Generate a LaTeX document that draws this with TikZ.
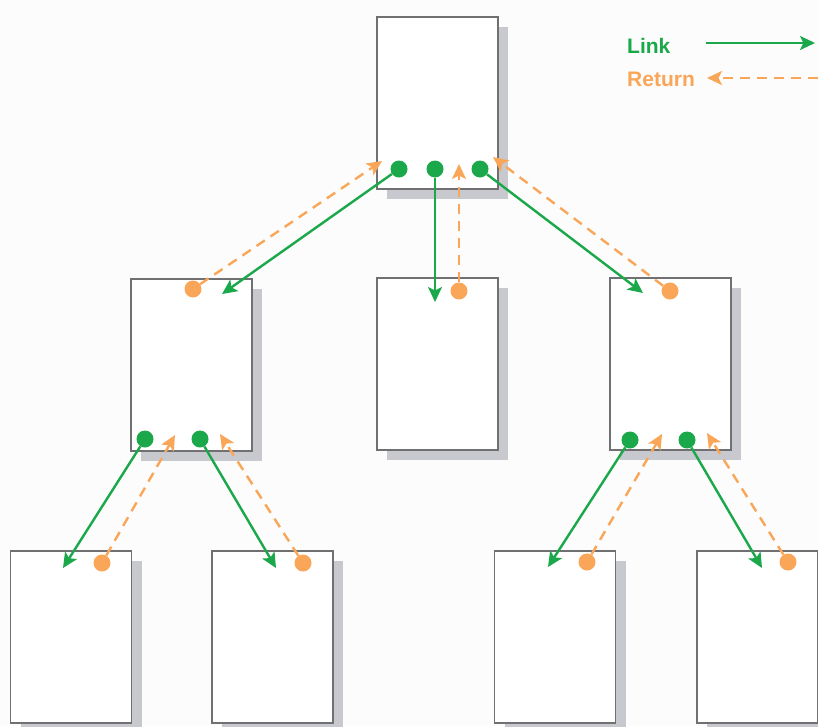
\documentclass[tikz,border=0pt]{standalone}
\usepackage{fontspec}
\setmainfont{Liberation Sans}
\usetikzlibrary{arrows.meta,shadows}
\definecolor{lgreen}{RGB}{26,168,74}
\definecolor{lorange}{RGB}{250,166,88}
\definecolor{boxgray}{RGB}{112,112,114}
\definecolor{shadowgray}{RGB}{200,201,206}
\definecolor{bgc}{RGB}{251,252,251}
\begin{document}
\begin{tikzpicture}[x=1pt,y=-1pt,
 page/.style={draw=boxgray, line width=1.5pt, fill=white, minimum width=121pt, minimum height=172pt, inner sep=0pt,
   drop shadow={shadow xshift=10pt, shadow yshift=-10pt, fill=shadowgray, opacity=1}},
 gdot/.style={circle, fill=lgreen, minimum size=17pt, inner sep=0pt},
 odot/.style={circle, fill=lorange, minimum size=17pt, inner sep=0pt},
 link/.style={draw=lgreen, line width=2.4pt, -{Stealth[length=15pt,width=14pt,inset=3.5pt]}},
 ret/.style={draw=lorange, line width=2.4pt, dash pattern=on 10pt off 7pt, -{Stealth[length=15pt,width=14pt,inset=3.5pt]}},
 lbl/.style={font=\fontsize{21}{25}\selectfont\bfseries, inner sep=0pt, anchor=west}]
\fill[bgc] (0,0) rectangle (818,726);
\useasboundingbox (0,0) rectangle (818,726);
% pages
\node[page] (top) at (437.5,103) {};
\node[page] (ml) at (191.5,365) {};
\node[page] (mc) at (437.5,364) {};
\node[page] (mr) at (670.5,364) {};
\node[page] (b1) at (71,637) {};
\node[page] (b2) at (272.5,637) {};
\node[page] (b3) at (555,637) {};
\node[page] (b4) at (757.5,637) {};
% dots
\node[gdot] (t1) at (399,169) {};
\node[gdot] (t2) at (435,169) {};
\node[gdot] (t3) at (480,169) {};
\node[odot] (mlo) at (193,289) {};
\node[odot] (mco) at (459,291) {};
\node[odot] (mro) at (670,291) {};
\node[gdot] (ml1) at (145,439) {};
\node[gdot] (ml2) at (200,439) {};
\node[gdot] (mr1) at (630,440) {};
\node[gdot] (mr2) at (687,440) {};
\node[odot] (b1o) at (102,563) {};
\node[odot] (b2o) at (303,563) {};
\node[odot] (b3o) at (587,562) {};
\node[odot] (b4o) at (788,562) {};
% arrow end points
\coordinate (mlin) at (222,294);
\coordinate (mcin) at (435,302);
\coordinate (mrin) at (643,293);
\coordinate (t1in) at (382,161);
\coordinate (t2in) at (459,164);
\coordinate (t3in) at (493,157);
\coordinate (b1in) at (63,568);
\coordinate (b2in) at (276,568);
\coordinate (b3in) at (548,567);
\coordinate (b4in) at (762,568);
\coordinate (ml1in) at (175,435);
\coordinate (ml2in) at (220,434);
\coordinate (mr1in) at (662,434);
\coordinate (mr2in) at (707,433);
% links
\draw[link] (t1) -- (mlin);
\draw[link] (t2) -- (mcin);
\draw[link] (t3) -- (mrin);
\draw[link] (ml1) -- (b1in);
\draw[link] (ml2) -- (b2in);
\draw[link] (mr1) -- (b3in);
\draw[link] (mr2) -- (b4in);
% returns
\draw[ret] (mlo) -- (t1in);
\draw[ret] (mco) -- (t2in);
\draw[ret] (mro) -- (t3in);
\draw[ret] (b1o) -- (ml1in);
\draw[ret] (b2o) -- (ml2in);
\draw[ret] (b3o) -- (mr1in);
\draw[ret] (b4o) -- (mr2in);
% legend
\node[lbl, text=lgreen] (lk) at (627,46) {Link};
\node[lbl, text=lorange] (rt) at (627,79) {Return};
\coordinate (la1) at (706,43);
\coordinate (la2) at (815,43);
\coordinate (ra1) at (818,78);
\coordinate (ra2) at (707,78);
\draw[link] (la1) -- (la2);
\draw[ret] (ra1) -- (ra2);
\end{tikzpicture}
\end{document}
